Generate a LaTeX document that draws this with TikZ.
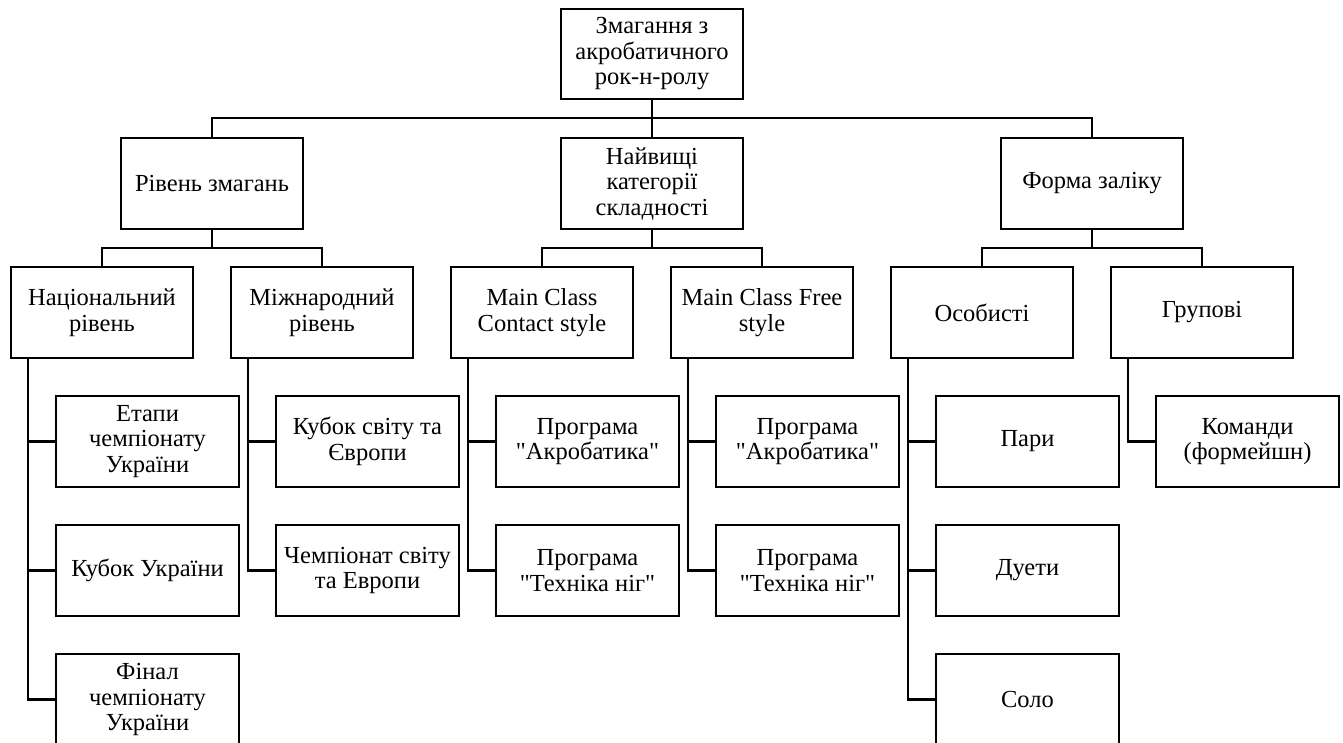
\documentclass[tikz,border=0pt]{standalone}
\usepackage{fontspec}
\setmainfont{Liberation Serif}
\newfontfamily\qfont{Liberation Serif}
\newcommand\dq{{\qfont\symbol{34}}}
\begin{document}
\begin{tikzpicture}[x=1pt,y=-1pt,
  box/.style={draw=black,line width=2pt,fill=white,align=center,inner sep=2pt,
    font=\fontsize{24.5}{25.5}\selectfont},
  b2/.style={box,minimum width=182pt,minimum height=91pt},
  b4/.style={box,minimum width=183pt,minimum height=91pt},
  conn/.style={line width=1.9pt,line join=miter},
  trunk/.style={line width=2.3pt,line join=miter}]
\useasboundingbox (0,0) rectangle (1343,742);
\clip (0,0) rectangle (1343,742);
% top
\node[b2,minimum height=90pt] (top) at (652,54) {Змагання з\\акробатичного\\рок-н-ролу};
% level 2
\node[b2] (lv) at (212,183.5) {Рівень змагань};
\node[b2] (cat) at (652,183.5) {Найвищі\\категорії\\складності};
\node[b2] (form) at (1092,183.5) {Форма заліку};
% level 3
\node[b2] (nat) at (102,312.5) {Національний\\рівень};
\node[b2] (int) at (322,312.5) {Міжнародний\\рівень};
\node[b2] (mcc) at (542,312.5) {Main Class\\Contact style};
\node[b2] (mcf) at (762,312.5) {Main Class Free\\style};
\node[b2] (pers) at (982,312.5) {Особисті};
\node[b2] (grp) at (1202,312.5) {Групові};
% level 4
\node[b4] (n1) at (147.5,441.5) {Етапи\\чемпіонату\\України};
\node[b4] (n2) at (147.5,570.5) {Кубок України};
\node[b4] (n3) at (147.5,699.5) {Фінал\\чемпіонату\\України};
\node[b4] (i1) at (367.5,441.5) {Кубок світу та\\Європи};
\node[b4] (i2) at (367.5,570.5) {Чемпіонат світу\\та Европи};
\node[b4] (c1) at (587.5,441.5) {Програма\\\dq Акробатика\dq};
\node[b4] (c2) at (587.5,570.5) {Програма\\\dq Техніка ніг\dq};
\node[b4] (f1) at (807.5,441.5) {Програма\\\dq Акробатика\dq};
\node[b4] (f2) at (807.5,570.5) {Програма\\\dq Техніка ніг\dq};
\node[b4] (p1) at (1027.5,441.5) {Пари};
\node[b4] (p2) at (1027.5,570.5) {Дуети};
\node[b4] (p3) at (1027.5,699.5) {Соло};
\node[b4] (g1) at (1247.5,441.5) {Команди\\(формейшн)};
% bus coordinates
\coordinate (bus0) at (652,118);
\coordinate (bus1) at (0,248);
% top to level 2
\draw[conn] (top.south) -- (cat.north);
\draw[conn] (lv.north) -- (lv.north |- bus0) -- (form.north |- bus0) -- (form.north);
% level 2 to level 3
\foreach \p/\a/\b in {lv/nat/int, cat/mcc/mcf, form/pers/grp}{
  \draw[conn] (\p.south) -- (\p.south |- bus1);
  \draw[conn] (\a.north) -- (\a.north |- bus1) -- (\b.north |- bus1) -- (\b.north);
}
% level 3 to level 4
\coordinate (tn) at ([xshift=18pt]nat.south west);
\coordinate (ti) at ([xshift=18pt]int.south west);
\coordinate (tc) at ([xshift=18pt]mcc.south west);
\coordinate (tf) at ([xshift=18pt]mcf.south west);
\coordinate (tp) at ([xshift=18pt]pers.south west);
\coordinate (tg) at ([xshift=18pt]grp.south west);
\draw[trunk] (tn) |- (n1.west); \draw[trunk] (tn) |- (n2.west); \draw[trunk] (tn) |- (n3.west);
\draw[trunk] (ti) |- (i1.west); \draw[trunk] (ti) |- (i2.west);
\draw[trunk] (tc) |- (c1.west); \draw[trunk] (tc) |- (c2.west);
\draw[trunk] (tf) |- (f1.west); \draw[trunk] (tf) |- (f2.west);
\draw[trunk] (tp) |- (p1.west); \draw[trunk] (tp) |- (p2.west); \draw[trunk] (tp) |- (p3.west);
\draw[trunk] (tg) |- (g1.west);
\end{tikzpicture}
\end{document}
